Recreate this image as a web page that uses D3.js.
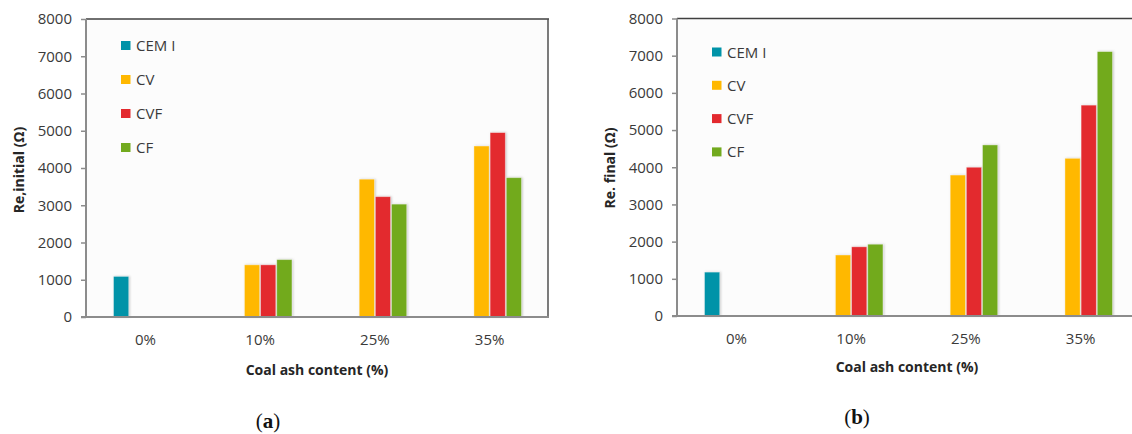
<!DOCTYPE html>
<html>
<head>
<meta charset="utf-8">
<script src="https://cdn.jsdelivr.net/npm/d3@7/dist/d3.min.js"></script>
<style>
  html, body { margin: 0; padding: 0; background: #ffffff; }
  svg { display: block; }
</style>
</head>
<body>
<svg id="chart" width="1132" height="434"></svg>
<script>
// ---------------- DATA ----------------
const categories = ["0%", "10%", "25%", "35%"];
const seriesNames = ["CEM I", "CV", "CVF", "CF"];
const seriesColors = ["#0093a8", "#ffb800", "#e3292e", "#72aa1e"];
const yTicks = [0, 1000, 2000, 3000, 4000, 5000, 6000, 7000, 8000];

// (a) Re,initial
const initialCEMI = [1090, null, null, null];
const initialCV   = [null, 1400, 3700, 4590];
const initialCVF  = [null, 1400, 3230, 4950];
const initialCF   = [null, 1540, 3030, 3740];

// (b) Re. final
const finalCEMI = [1180, null, null, null];
const finalCV   = [null, 1640, 3790, 4240];
const finalCVF  = [null, 1860, 4000, 5670];
const finalCF   = [null, 1930, 4600, 7110];

const xTitle = "Coal ash content (%)";

// ---------------- DRAW ----------------
const svg = d3.select("#chart");
const defs = svg.append("defs");
const flt = defs.append("filter").attr("id", "shadow")
  .attr("x", "-30%").attr("y", "-10%").attr("width", "160%").attr("height", "120%");
flt.append("feDropShadow").attr("dx", 1).attr("dy", 0).attr("stdDeviation", 0.9)
  .attr("flood-color", "#888").attr("flood-opacity", 0.45);

function drawPanel(cfg) {
  const g = svg.append("g");
  const { axisX, rightX, topY, baseY, bandL, bandR } = cfg;

  const y = d3.scaleLinear().domain([0, 8000]).range([baseY, topY]);
  const x0 = d3.scaleBand().domain(categories).range([bandL, bandR]).padding(0);
  const x1 = d3.scaleBand().domain(seriesNames).range([0, x0.bandwidth()])
    .paddingInner(0.06).paddingOuter(1.58);

  // plot background
  g.append("rect").attr("x", axisX).attr("y", topY)
    .attr("width", rightX - axisX).attr("height", baseY - topY)
    .attr("fill", "#fcfcfc");

  // frame top/right
  g.append("line").attr("x1", axisX).attr("x2", rightX + 1)
    .attr("y1", topY).attr("y2", topY)
    .attr("stroke", "#404040").attr("stroke-width", 1.5);
  g.append("line").attr("x1", rightX).attr("x2", rightX)
    .attr("y1", topY).attr("y2", baseY)
    .attr("stroke", "#505050").attr("stroke-width", 1.5);

  // bars
  const seriesVals = cfg.values;
  categories.forEach((c, ci) => {
    seriesNames.forEach((s, si) => {
      const v = seriesVals[si][ci];
      if (v == null) return;
      g.append("rect")
        .attr("x", x0(c) + x1(s))
        .attr("y", y(v))
        .attr("width", x1.bandwidth())
        .attr("height", y(0) - y(v))
        .attr("fill", seriesColors[si])
        .attr("stroke", "rgba(255,255,255,0.45)")
        .attr("stroke-width", 0.8)
        .attr("filter", "url(#shadow)");
    });
  });

  // y axis
  const yAxis = d3.axisLeft(y).tickValues(yTicks).tickSize(5).tickPadding(9)
    .tickFormat(d3.format("d"));
  const ya = g.append("g").attr("transform", `translate(${axisX},0)`).call(yAxis);
  ya.select(".domain").attr("stroke", "#8c8c8c").attr("stroke-width", 2)
    .attr("d", `M0,${topY}V${baseY}`);
  ya.selectAll(".tick line").attr("stroke", "#8c8c8c").attr("stroke-width", 1.5);
  ya.selectAll(".tick text").attr("fill", "#3a3a3a")
    .style("font-family", "'Open Sans', sans-serif").style("font-size", "15px");

  // x axis
  const xAxis = d3.axisBottom(x0).tickSize(0).tickPadding(17);
  const xa = g.append("g").attr("transform", `translate(0,${baseY})`).call(xAxis);
  xa.select(".domain").attr("stroke", "#8c8c8c").attr("stroke-width", 2)
    .attr("d", `M${axisX - 5},0H${Math.min(rightX + 1, 1140)}`);
  xa.selectAll(".tick text").attr("fill", "#3a3a3a")
    .style("font-family", "'Open Sans', sans-serif").style("font-size", "15px");

  // axis titles
  g.append("text")
    .attr("x", (axisX + rightX) / 2).attr("y", cfg.xTitleY)
    .attr("text-anchor", "middle")
    .style("font-family", "'Open Sans', sans-serif").style("font-size", "14px")
    .style("font-weight", "bold").attr("fill", "#262626")
    .text(xTitle);

  g.append("text")
    .attr("transform", `translate(${cfg.yTitleX},${cfg.yTitleY}) rotate(-90)`)
    .attr("text-anchor", "middle")
    .style("font-family", "'Open Sans', sans-serif").style("font-size", "14px")
    .style("font-weight", "bold").attr("fill", "#262626")
    .text(cfg.yTitle);

  // legend
  const lg = g.append("g");
  seriesNames.forEach((s, i) => {
    const cy = cfg.legendY + i * cfg.legendStep;
    lg.append("rect").attr("x", cfg.legendX).attr("y", cy - 4.5)
      .attr("width", 9.5).attr("height", 9)
      .attr("fill", seriesColors[i]);
    lg.append("text").attr("x", cfg.legendX + 15).attr("y", cy + 5.5)
      .style("font-family", "'Open Sans', sans-serif").style("font-size", "15px")
      .attr("fill", "#3a3a3a").text(s);
  });

  // panel label
  const pl = g.append("text").attr("x", cfg.labelX).attr("y", cfg.labelY)
    .attr("text-anchor", "middle")
    .style("font-family", "'Liberation Serif', 'DejaVu Serif', serif")
    .style("font-size", "21px").attr("fill", "#111");
  pl.append("tspan").text("(");
  pl.append("tspan").style("font-weight", "bold").text(cfg.label);
  pl.append("tspan").text(")");
}

drawPanel({
  axisX: 86, rightX: 548, topY: 19, baseY: 317, bandL: 88, bandR: 547,
  values: [initialCEMI, initialCV, initialCVF, initialCF],
  yTitle: "Re,initial (Ω)", yTitleX: 24, yTitleY: 170,
  xTitleY: 375,
  legendX: 121, legendY: 45.5, legendStep: 34,
  label: "a", labelX: 268, labelY: 428
});

drawPanel({
  axisX: 677, rightX: 1137, topY: 18.5, baseY: 316, bandL: 679, bandR: 1138,
  values: [finalCEMI, finalCV, finalCVF, finalCF],
  yTitle: "Re. final (Ω)", yTitleX: 615, yTitleY: 168,
  xTitleY: 372,
  legendX: 712, legendY: 52, legendStep: 33.3,
  label: "b", labelX: 857, labelY: 424
});
</script>
</body>
</html>
